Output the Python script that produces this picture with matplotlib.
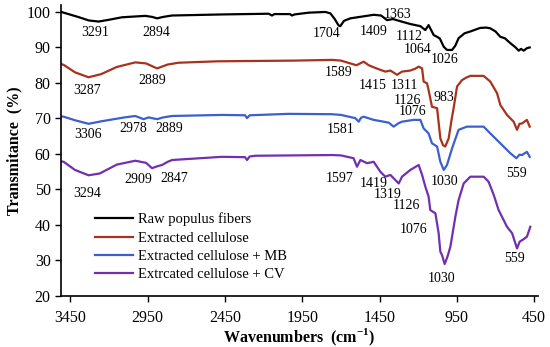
import matplotlib
matplotlib.use("Agg")
import matplotlib.pyplot as plt

plt.rcParams['font.family'] = ['Liberation Serif', 'DejaVu Serif']
plt.rcParams['mathtext.fontset'] = 'custom'
plt.rcParams['mathtext.rm'] = 'Liberation Serif'
plt.rcParams['mathtext.bf'] = 'Liberation Serif:bold'

# spectra (wavenumber, transmittance %)
raw_wn = [3508, 3493, 3400, 3330, 3267, 3200, 3116, 2965, 2920, 2889, 2850, 2792, 2469, 2167, 2146,
          2130, 2030, 2016, 2000, 1909, 1801, 1768, 1740, 1715, 1704, 1680, 1639, 1488, 1440, 1402,
          1363, 1300, 1251, 1186, 1154, 1133, 1100, 1078, 1060, 1035, 1014, 981, 960, 939, 900, 863,
          800, 760, 734, 700, 669, 640, 604, 570, 550, 535, 518, 497, 479]
raw_t = [100.0, 99.8, 98.6, 97.6, 97.3, 97.8, 98.5, 98.9, 98.6, 98.2, 98.6, 99.0, 99.3, 99.5, 99.0,
         99.4, 99.4, 99.0, 99.3, 99.8, 100.0, 99.6, 98.0, 96.2, 96.0, 97.5, 98.2, 99.2, 99.0, 97.7,
         98.0, 97.2, 96.6, 96.0, 94.9, 96.3, 93.5, 93.0, 92.5, 90.2, 89.3, 89.3, 90.5, 92.6, 94.0, 94.5,
         95.5, 95.6, 95.4, 94.5, 93.0, 92.6, 91.2, 90.0, 89.1, 89.6, 89.1, 89.8, 90.0]

cel_wn = [3508, 3493, 3420, 3332, 3250, 3150, 3030, 2960, 2889, 2820, 2750, 2500, 2253, 2000, 1758,
          1700, 1639, 1600, 1585, 1553, 1520, 1499, 1445, 1413, 1380, 1337, 1305, 1251, 1220, 1197,
          1175, 1165, 1143, 1133, 1111, 1078, 1057, 1040, 1025, 1003, 983, 971, 949, 917, 890, 863,
          777, 734, 690, 669, 626, 583, 561, 545, 529, 497, 479]
cel_t = [85.3, 85.1, 83.0, 81.6, 82.5, 84.5, 85.8, 85.5, 84.1, 85.2, 85.7, 86.1, 86.2, 86.3, 86.5,
         86.3, 85.5, 85.0, 85.3, 86.0, 85.0, 84.6, 83.7, 83.2, 83.5, 82.3, 83.2, 83.5, 84.0, 84.6,
         84.1, 80.4, 79.9, 78.0, 73.3, 72.9, 64.4, 62.5, 62.1, 64.4, 70.0, 72.9, 79.0, 80.8, 81.5, 82.0,
         82.0, 80.4, 77.1, 73.8, 71.0, 69.1, 66.8, 68.5, 68.6, 69.6, 67.7]

mb_wn = [3508, 3493, 3420, 3332, 3250, 3100, 3030, 2976, 2944, 2889, 2850, 2792, 2469, 2320, 2307,
         2290, 2038, 1758, 1700, 1607, 1585, 1570, 1553, 1488, 1424, 1390, 1359, 1330, 1305, 1230,
         1186, 1165, 1133, 1111, 1078, 1057, 1035, 1014, 981, 939, 885, 777, 734, 669, 604, 565,
         545, 529, 497, 479]
mb_t = [70.6, 70.5, 69.5, 68.5, 69.2, 70.3, 70.7, 69.8, 70.3, 69.8, 70.3, 70.7, 71.0, 70.9, 70.1,
        70.9, 71.3, 71.2, 71.0, 70.1, 69.1, 70.2, 70.5, 69.6, 69.1, 68.8, 67.7, 68.6, 69.1, 69.6,
        69.6, 67.2, 65.8, 63.0, 62.1, 57.8, 55.5, 56.9, 61.6, 66.8, 67.7, 67.7, 65.8, 63.0, 60.2, 58.8,
        59.8, 59.7, 60.6, 59.2]

cv_wn = [3508, 3493, 3420, 3332, 3260, 3150, 3030, 2960, 2922, 2890, 2857, 2820, 2792, 2469, 2320,
         2307, 2290, 2253, 1758, 1700, 1618, 1596, 1574, 1531, 1488, 1445, 1413, 1380, 1326, 1305,
         1251, 1197, 1175, 1154, 1133, 1122, 1089, 1068, 1057, 1046, 1029, 1010, 992, 960, 939, 906,
         863, 777, 745, 712, 680, 658, 626, 593, 561, 544, 518, 497, 475]
cv_t = [57.9, 57.8, 55.5, 54.0, 54.5, 57.0, 58.1, 57.5, 56.0, 56.5, 56.9, 57.8, 58.3, 59.2, 59.1,
        58.3, 59.3, 59.5, 59.7, 59.6, 58.8, 56.4, 58.3, 57.4, 57.8, 55.0, 53.6, 54.1, 51.7, 53.6,
        55.5, 56.9, 54.1, 50.8, 48.0, 44.2, 43.3, 37.7, 32.5, 31.5, 29.0, 31.2, 33.9, 42.3, 47.0, 51.7,
        53.6, 53.6, 52.2, 48.5, 44.2, 42.3, 39.5, 37.7, 33.4, 35.3, 36.0, 36.7, 39.5]

labels = ["Raw populus fibers", "Extracted cellulose",
          "Extracted cellulose + MB", "Extrcated cellulose + CV"]
colors = ["black", "#a8321e", "#3c5fd0", "#7030b0"]

# peak labels (text, wavenumber, transmittance)
peak_txt = ["3291", "2894", "1704", "1409", "1363", "1112", "1064", "1026",
            "3287", "2889", "1589", "1415", "1311", "1126", "983", "1076",
            "3306", "2978", "2889", "1581", "1030", "559",
            "3294", "2909", "2847", "1597", "1419", "1319", "1126", "1076", "1030", "559"]
peak_wn = [3288, 2894, 1794, 1490, 1332, 1257, 1202, 1031,
           3340, 2920, 1718, 1494, 1290, 1272, 1037, 1235,
           3333, 3042, 2810, 1704, 1031, 565,
           3340, 3010, 2777, 1710, 1490, 1396, 1276, 1232, 1050, 578]
peak_t = [94.1, 94.1, 93.8, 94.5, 99.2, 93.2, 89.5, 86.5,
          78.0, 80.8, 82.9, 79.4, 79.4, 75.2, 76.0, 71.9,
          65.4, 67.3, 67.3, 66.8, 52.2, 54.6,
          49.0, 52.7, 53.2, 53.2, 51.7, 48.7, 45.4, 38.6, 25.0, 30.6]

fig = plt.figure(figsize=(5.5, 3.47), dpi=100)
ax = fig.add_axes([0.111, 0.147, 0.867, 0.839])

series = [(raw_wn, raw_t), (cel_wn, cel_t), (mb_wn, mb_t), (cv_wn, cv_t)]
for (wn, t), lab, c in zip(series, labels, colors):
    ax.plot(wn, t, color=c, lw=1.6, label=lab)

for s, w, t in zip(peak_txt, peak_wn, peak_t):
    ax.text(w, t, s, fontsize=10, ha='center', va='center')

ax.set_xlim(3510, 426)
ax.set_ylim(20, 102)
ax.set_xticks([3450, 2950, 2450, 1950, 1450, 950, 450])
ax.set_yticks(range(20, 101, 10))
ax.tick_params(labelsize=11.5, direction='out', length=4, width=1)
ax.tick_params(axis='x', pad=6)
for side in ['top', 'right']:
    ax.spines[side].set_visible(False)
for side in ['left', 'bottom']:
    ax.spines[side].set_linewidth(1.2)

ax.set_xlabel(r"Wavenumbers  (cm$^{\mathbf{-1}}$)", fontsize=11.5, fontweight='bold', labelpad=1)
ax.set_ylabel("Transmitance  (%)", fontsize=11.5, fontweight='bold', labelpad=3)

ax.legend(loc='lower left', bbox_to_anchor=(0.06, 0.03), frameon=False, fontsize=10.5,
          handlelength=2.6, handletextpad=0.3, labelspacing=0.35, borderaxespad=0)

fig.savefig("out.png", dpi=100)
